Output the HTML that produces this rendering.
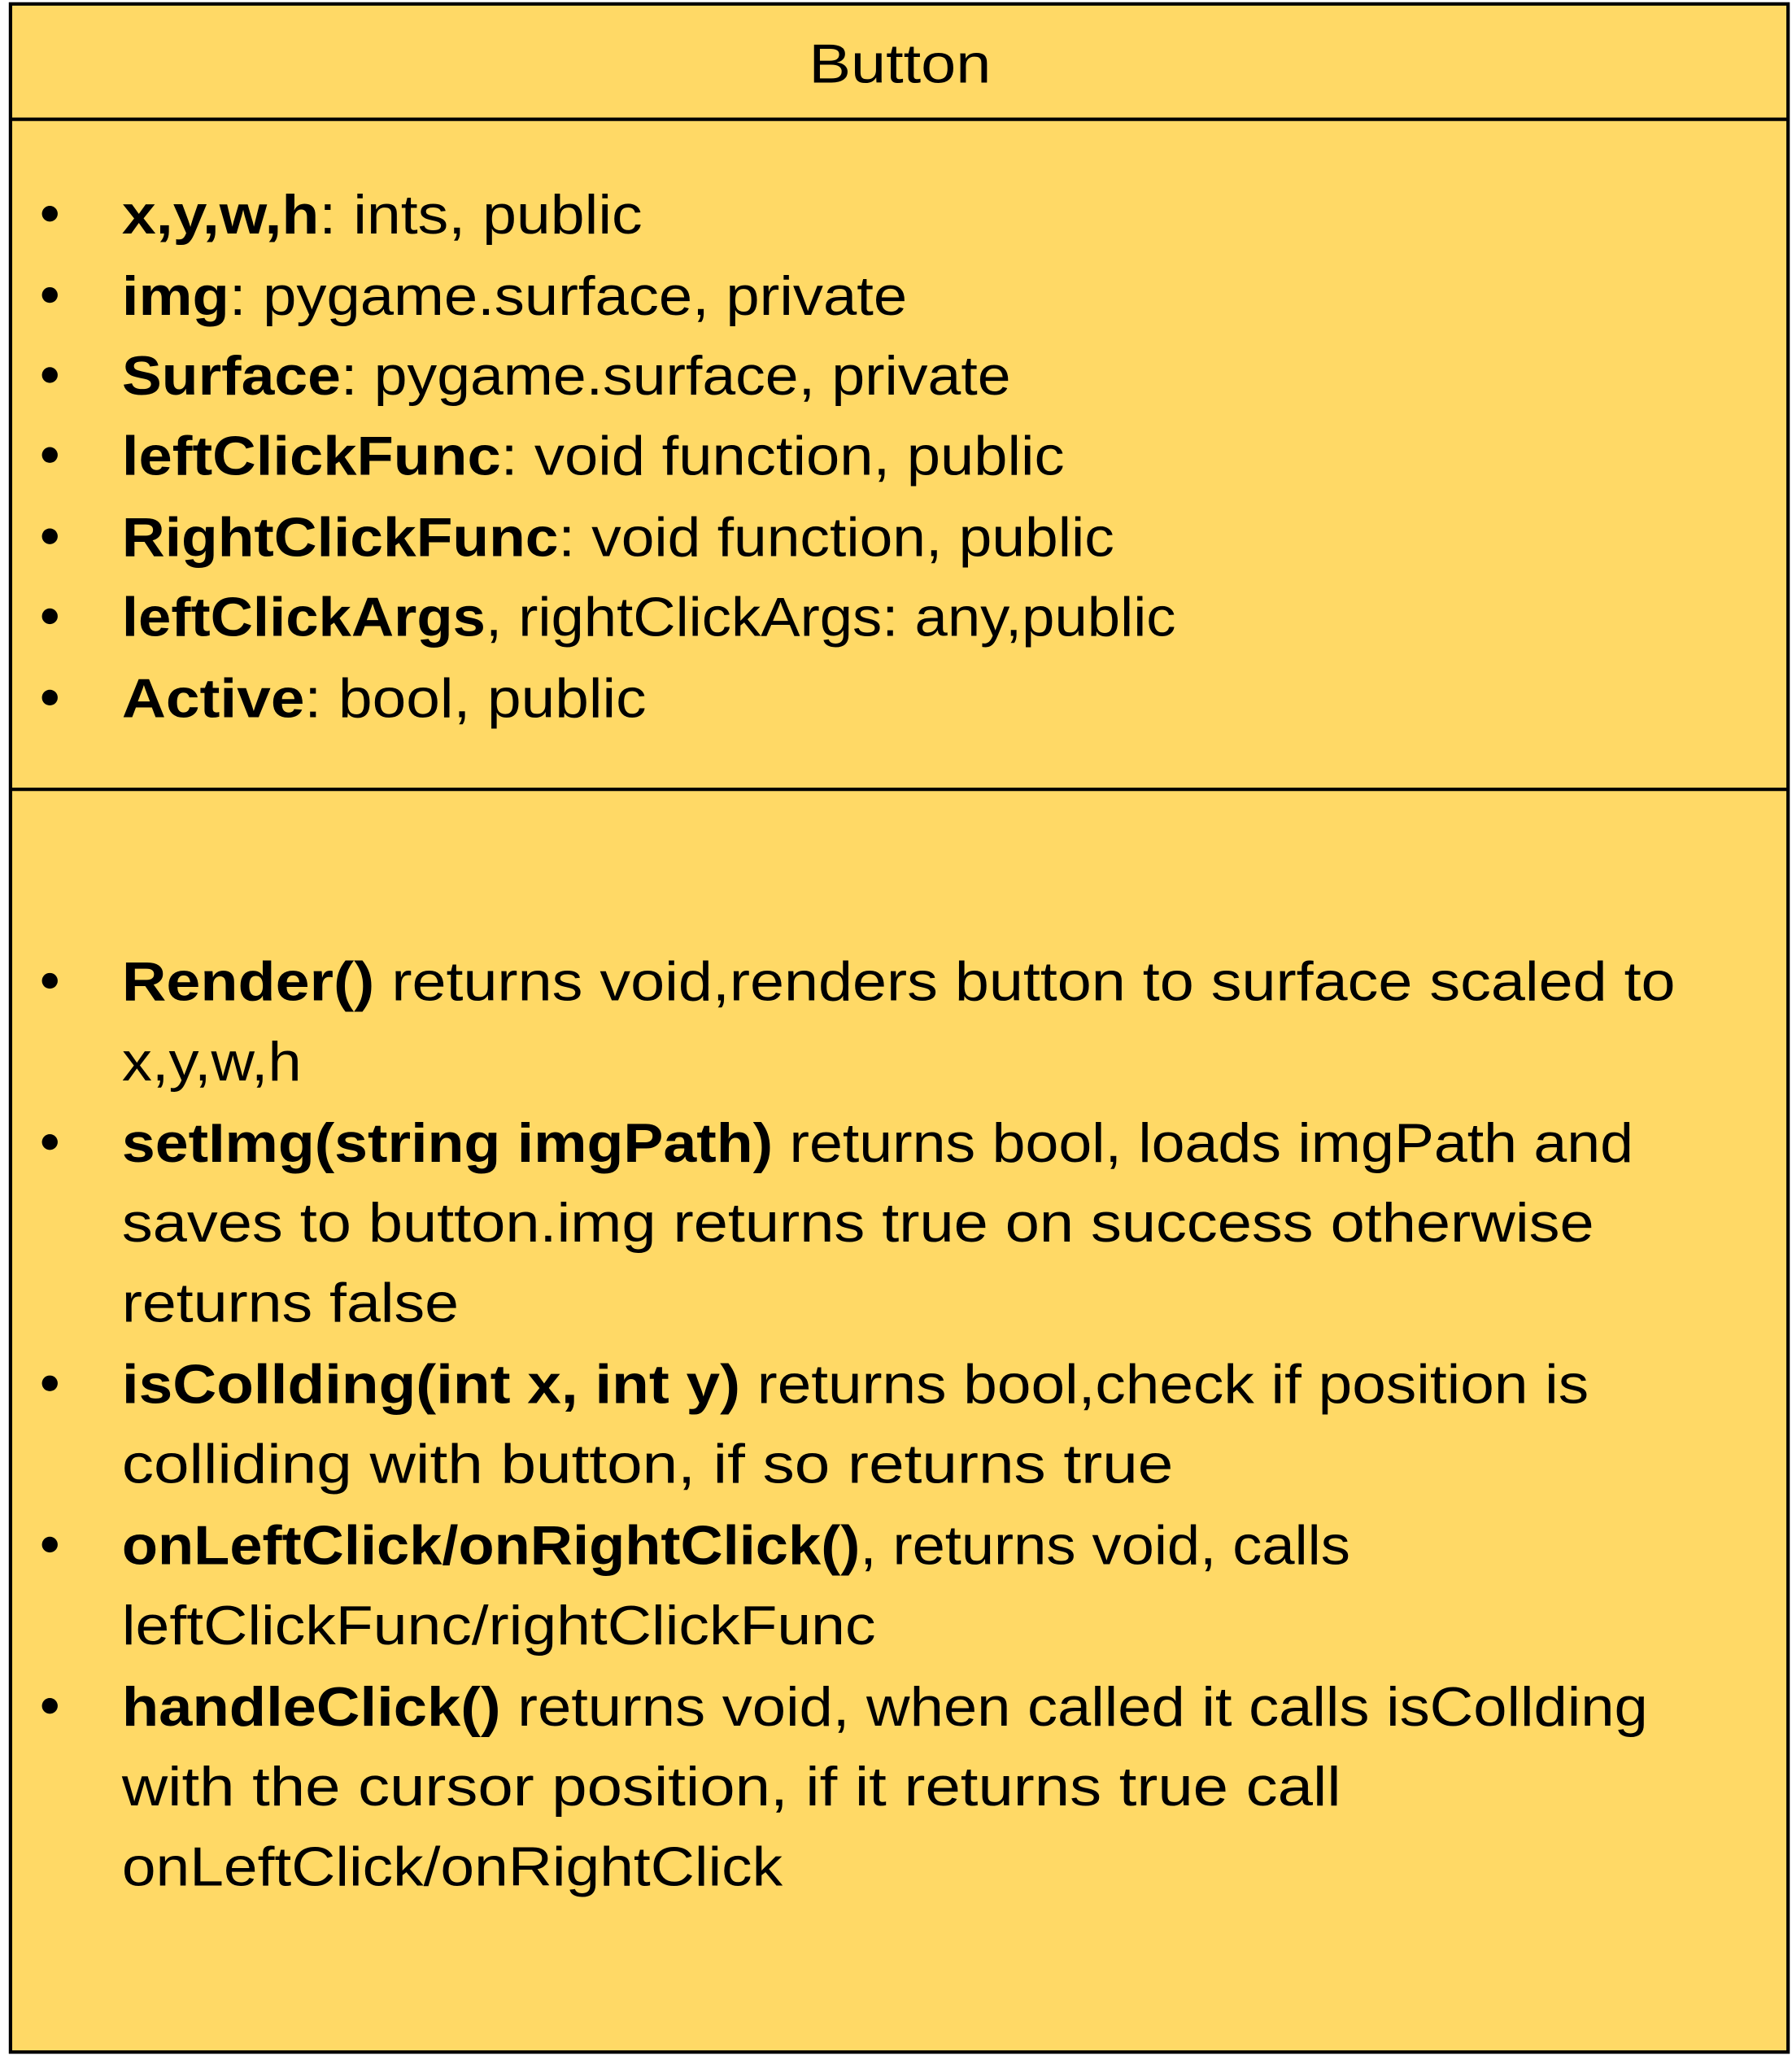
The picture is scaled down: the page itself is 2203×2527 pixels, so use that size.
<!DOCTYPE html>
<html><head><meta charset="utf-8"><style>
html,body{margin:0;padding:0;background:#fff;}
svg{display:block;}
text{font-family:"Liberation Sans",sans-serif;fill:#000;}
.b{font-weight:bold;}
</style></head><body>
<svg width="2203" height="2527" viewBox="0 0 1367 1568" preserveAspectRatio="none" xmlns="http://www.w3.org/2000/svg">
<rect x="8" y="3" width="1356" height="1562" fill="#FFD966" stroke="#000" stroke-width="2.6"/>
<line x1="8" y1="91" x2="1364" y2="91" stroke="#000" stroke-width="2.6"/>
<line x1="8" y1="602" x2="1364" y2="602" stroke="#000" stroke-width="2.6"/>
<text x="617" y="63" font-size="42" textLength="139" lengthAdjust="spacingAndGlyphs">Button</text>
<g font-size="42">
<g fill="#000">
<circle cx="38" cy="163" r="6"/><circle cx="38" cy="225" r="6"/><circle cx="38" cy="286" r="6"/><circle cx="38" cy="347" r="6"/><circle cx="38" cy="409" r="6"/><circle cx="38" cy="470" r="6"/><circle cx="38" cy="532" r="6"/>
<circle cx="38" cy="748" r="6"/><circle cx="38" cy="871" r="6"/><circle cx="38" cy="1055" r="6"/><circle cx="38" cy="1178" r="6"/><circle cx="38" cy="1301" r="6"/>
</g>
<text x="93" y="178" textLength="397" lengthAdjust="spacingAndGlyphs"><tspan class="b">x,y,w,h</tspan>: ints, public</text>
<text x="93" y="240" textLength="599" lengthAdjust="spacingAndGlyphs"><tspan class="b">img</tspan>: pygame.surface, private</text>
<text x="93" y="301" textLength="678" lengthAdjust="spacingAndGlyphs"><tspan class="b">Surface</tspan>: pygame.surface, private</text>
<text x="93" y="362" textLength="719" lengthAdjust="spacingAndGlyphs"><tspan class="b">leftClickFunc</tspan>: void function, public</text>
<text x="93" y="424" textLength="757" lengthAdjust="spacingAndGlyphs"><tspan class="b">RightClickFunc</tspan>: void function, public</text>
<text x="93" y="485" textLength="804" lengthAdjust="spacingAndGlyphs"><tspan class="b">leftClickArgs</tspan>, rightClickArgs: any,public</text>
<text x="93" y="547" textLength="400" lengthAdjust="spacingAndGlyphs"><tspan class="b">Active</tspan>: bool, public</text>

<text x="93" y="763" textLength="1185" lengthAdjust="spacingAndGlyphs"><tspan class="b">Render()</tspan> returns void,renders button to surface scaled to</text>
<text x="93" y="824" textLength="137" lengthAdjust="spacingAndGlyphs">x,y,w,h</text>
<text x="93" y="886" textLength="1153" lengthAdjust="spacingAndGlyphs"><tspan class="b">setImg(string imgPath)</tspan> returns bool, loads imgPath and</text>
<text x="93" y="947" textLength="1123" lengthAdjust="spacingAndGlyphs">saves to button.img returns true on success otherwise</text>
<text x="93" y="1008" textLength="257" lengthAdjust="spacingAndGlyphs">returns false</text>
<text x="93" y="1070" textLength="1119" lengthAdjust="spacingAndGlyphs"><tspan class="b">isCollding(int x, int y)</tspan> returns bool,check if position is</text>
<text x="93" y="1131" textLength="802" lengthAdjust="spacingAndGlyphs">colliding with button, if so returns true</text>
<text x="93" y="1193" textLength="937" lengthAdjust="spacingAndGlyphs"><tspan class="b">onLeftClick/onRightClick()</tspan>, returns void, calls</text>
<text x="93" y="1254" textLength="575" lengthAdjust="spacingAndGlyphs">leftClickFunc/rightClickFunc</text>
<text x="93" y="1316" textLength="1164" lengthAdjust="spacingAndGlyphs"><tspan class="b">handleClick()</tspan> returns void, when called it calls isCollding</text>
<text x="93" y="1377" textLength="930" lengthAdjust="spacingAndGlyphs">with the cursor position, if it returns true call</text>
<text x="93" y="1438" textLength="504" lengthAdjust="spacingAndGlyphs">onLeftClick/onRightClick</text>
</g>
</svg>
</body></html>
